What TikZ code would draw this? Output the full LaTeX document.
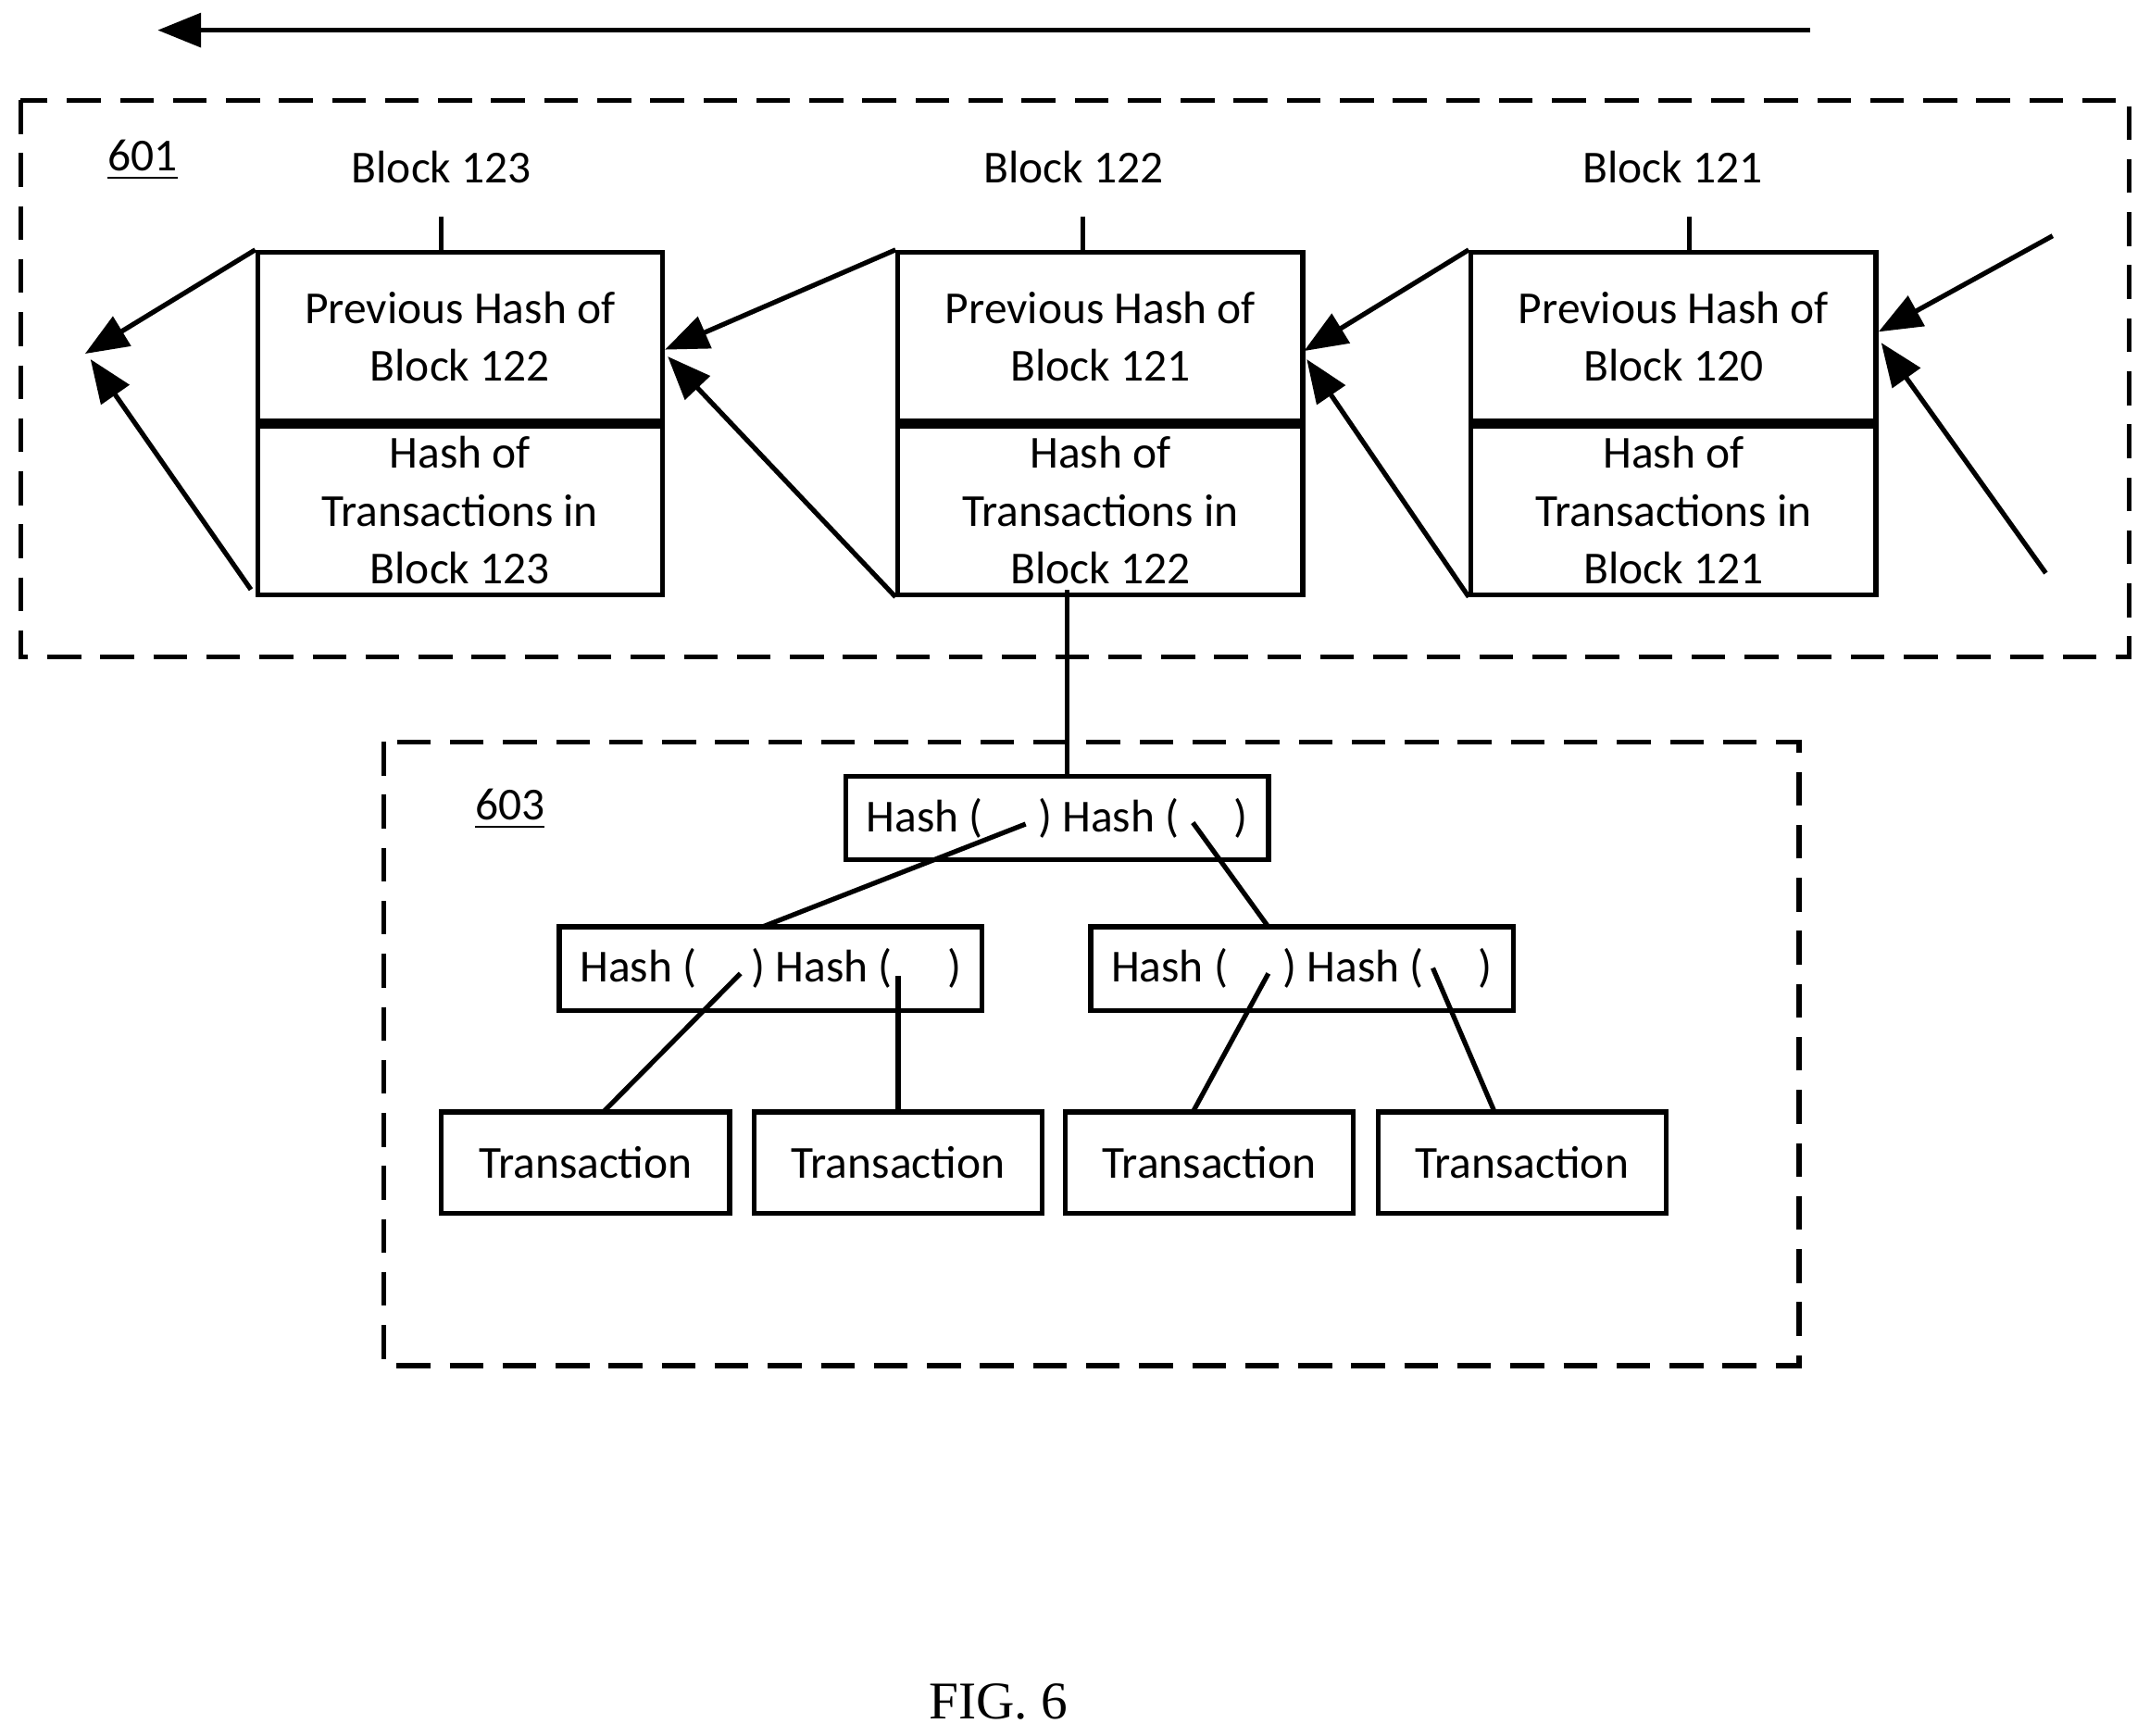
\documentclass[tikz,border=0pt]{standalone}
\usepackage{fontspec}
\setmainfont{Carlito}
\newfontfamily\figfont{Liberation Serif}
\usetikzlibrary{arrows.meta}
\begin{document}
\begin{tikzpicture}[x=0.01cm,y=-0.01cm,line width=1pt,
	box/.style={draw,rectangle,inner sep=0pt,align=center,font=\fontsize{9.5}{12}\selectfont},
	blk/.style={box,minimum width=2.95cm,minimum height=1.23cm},
	hsh/.style={box,minimum width=3.08cm,minimum height=0.61cm},
	lbl/.style={font=\fontsize{9.5}{12}\selectfont},
	frame/.style={dash pattern=on 7pt off 4pt},
	arr/.style={-{Triangle[length=9pt,width=7pt]}}]
	\useasboundingbox (0,0) rectangle (1568,1266);
	
	% direction of chain
	\coordinate (dirR) at (1320,22);
	\coordinate (dirL) at (115,22);
	\draw[arr] (dirR) -- (dirL);
	
	% block chain frame
	\draw[frame] (15,73) rectangle (1553,479);
	\node[lbl] (n601) at (104,117) {\underline{601}};
	
	% blocks
	\node[blk] (prev123) at (335.5,245.5) {Previous Hash of\\Block 122};
	\node[blk,anchor=north] (tx123) at (prev123.south) {Hash of\\Transactions in\\Block 123};
	\node[blk] (prev122) at (802.5,245.5) {Previous Hash of\\Block 121};
	\node[blk,anchor=north] (tx122) at (prev122.south) {Hash of\\Transactions in\\Block 122};
	\node[blk] (prev121) at (1220.5,245.5) {Previous Hash of\\Block 120};
	\node[blk,anchor=north] (tx121) at (prev121.south) {Hash of\\Transactions in\\Block 121};
	
	\node[lbl] (b123) at (322,122) {Block 123};
	\node[lbl] (b122) at (783,122) {Block 122};
	\node[lbl] (b121) at (1220,122) {Block 121};
	\draw (322,158) -- (322,184);
	\draw (790,158) -- (790,184);
	\draw (1232,158) -- (1232,184);
	
	% links between blocks
	\coordinate (tip0a) at (62,258);
	\coordinate (tip0b) at (66,262);
	\coordinate (tail4a) at (1497,172);
	\coordinate (tail4b) at (1492,418);
	\draw[arr] (prev123.north west) -- (tip0a);
	\draw[arr] (183,430) -- (tip0b);
	\draw[arr] (prev122.north west) -- (485,255);
	\draw[arr] (tx122.south west) -- (487,260);
	\draw[arr] (prev121.north west) -- (951,256);
	\draw[arr] (tx121.south west) -- (953,262);
	\draw[arr] (tail4a) -- (1370,242);
	\draw[arr] (tail4b) -- (1372,250);
	
	% merkle tree frame
	\draw[frame] (280,541) rectangle (1312,996);
	\node[lbl] (n603) at (372,590) {\underline{603}};
	
	\node[hsh] (root) at (771,596.5) {Hash (\hspace{1.2em}) Hash (\hspace{1.2em})};
	\node[hsh] (hl) at (562,706.5) {Hash (\hspace{1.2em}) Hash (\hspace{1.2em})};
	\node[hsh] (hr) at (949.5,706.5) {Hash (\hspace{1.2em}) Hash (\hspace{1.2em})};
	\foreach \n/\x in {t1/427,t2/655,t3/882,t4/1110}
		\node[box,minimum width=2.1cm,minimum height=0.74cm] (\n) at (\x,848) {Transaction};
	
	\draw (778,430) -- (778,566);
	\draw (748,601) -- (556,676);
	\draw (870,600) -- (925,676);
	\draw (540,710) -- (440,811);
	\draw (655,712) -- (655,811);
	\draw (925,710) -- (870,811);
	\draw (1045,706) -- (1090,811);
	
	\node[font=\figfont\fontsize{11}{13}\selectfont] (fig) at (728,1241) {FIG. 6};
\end{tikzpicture}
\end{document}
